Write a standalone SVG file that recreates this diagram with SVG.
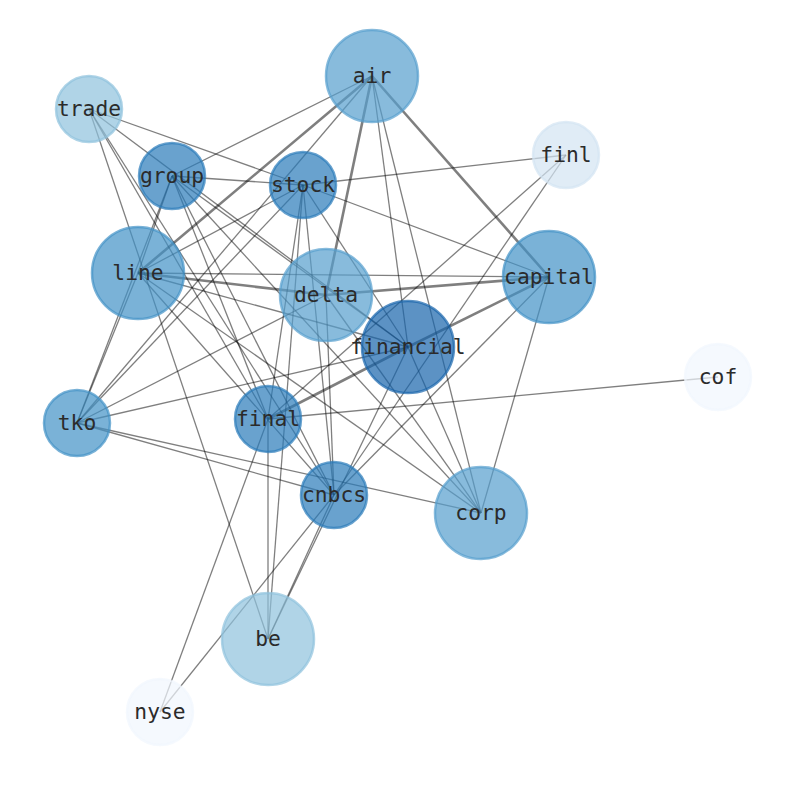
<svg xmlns="http://www.w3.org/2000/svg" width="794" height="790" viewBox="0 0 794 790">
<style>
.e line{stroke:#000;stroke-opacity:.5;stroke-width:1.3;fill:none}
.e line.t{stroke-width:2.6}
.n circle{fill-opacity:.7;stroke-opacity:.7;stroke-width:2.5}
.n text{font-family:"DejaVu Sans Mono","Liberation Mono",monospace;font-size:21.3px;fill:#2b2b2b;text-anchor:middle}
.c1{fill:#1764ab;stroke:#1764ab}
.c2{fill:#2a7ab9;stroke:#2a7ab9}
.c3{fill:#4292c6;stroke:#4292c6}
.c4{fill:#559ecd;stroke:#559ecd}
.c5{fill:#8fc2dd;stroke:#8fc2dd}
.c6{fill:#d3e4f2;stroke:#d3e4f2}
.c7{fill:#f1f6fe;stroke:#f1f6fe}
</style>
<rect width="794" height="790" fill="#fff"/>
<g id="edges" class="e">
<line x1="372" y1="76" x2="172" y2="176"/>
<line class="t" x1="372" y1="76" x2="138" y2="273"/>
<line x1="372" y1="76" x2="77" y2="423"/>
<line class="t" x1="372" y1="76" x2="326" y2="295"/>
<line x1="372" y1="76" x2="408" y2="347"/>
<line x1="372" y1="76" x2="481" y2="513"/>
<line class="t" x1="372" y1="76" x2="549" y2="277"/>
<line x1="89" y1="109" x2="303" y2="185"/>
<line x1="303" y1="185" x2="549" y2="277"/>
<line x1="89" y1="109" x2="408" y2="347"/>
<line x1="172" y1="176" x2="408" y2="347"/>
<line x1="89" y1="109" x2="268" y2="419"/>
<line x1="89" y1="109" x2="334" y2="495"/>
<line x1="89" y1="109" x2="268" y2="639"/>
<line x1="172" y1="176" x2="303" y2="185"/>
<line x1="172" y1="176" x2="77" y2="423"/>
<line x1="172" y1="176" x2="138" y2="273"/>
<line x1="138" y1="273" x2="77" y2="423"/>
<line x1="172" y1="176" x2="268" y2="419"/>
<line x1="172" y1="176" x2="334" y2="495"/>
<line x1="172" y1="176" x2="481" y2="513"/>
<line x1="303" y1="185" x2="566" y2="155"/>
<line x1="303" y1="185" x2="268" y2="419"/>
<line x1="303" y1="185" x2="334" y2="495"/>
<line x1="303" y1="185" x2="268" y2="639"/>
<line x1="303" y1="185" x2="408" y2="347"/>
<line x1="303" y1="185" x2="138" y2="273"/>
<line x1="303" y1="185" x2="77" y2="423"/>
<line x1="138" y1="273" x2="549" y2="277"/>
<line class="t" x1="138" y1="273" x2="326" y2="295"/>
<line class="t" x1="326" y1="295" x2="549" y2="277"/>
<line x1="138" y1="273" x2="408" y2="347"/>
<line x1="138" y1="273" x2="481" y2="513"/>
<line x1="138" y1="273" x2="334" y2="495"/>
<line x1="77" y1="423" x2="326" y2="295"/>
<line x1="77" y1="423" x2="408" y2="347"/>
<line x1="77" y1="423" x2="481" y2="513"/>
<line x1="77" y1="423" x2="334" y2="495"/>
<line x1="326" y1="295" x2="334" y2="495"/>
<line x1="326" y1="295" x2="481" y2="513"/>
<line x1="408" y1="347" x2="481" y2="513"/>
<line x1="549" y1="277" x2="481" y2="513"/>
<line x1="549" y1="277" x2="334" y2="495"/>
<line class="t" x1="408" y1="347" x2="549" y2="277"/>
<line class="t" x1="408" y1="347" x2="268" y2="419"/>
<line x1="268" y1="419" x2="718" y2="377"/>
<line x1="268" y1="419" x2="268" y2="639"/>
<line x1="268" y1="419" x2="160" y2="712"/>
<line x1="334" y1="495" x2="160" y2="712"/>
<line x1="408" y1="347" x2="268" y2="639"/>
<line x1="334" y1="495" x2="268" y2="639"/>
<line x1="566" y1="155" x2="268" y2="419"/>
<line x1="566" y1="155" x2="334" y2="495"/>
</g>
<g id="node-air" class="n"><circle class="c4" cx="372" cy="76" r="46"/><text x="372" y="83">air</text></g>
<g id="node-trade" class="n"><circle class="c5" cx="89" cy="109" r="33"/><text x="89" y="116">trade</text></g>
<g id="node-group" class="n"><circle class="c2" cx="172" cy="176" r="33"/><text x="172" y="183">group</text></g>
<g id="node-stock" class="n"><circle class="c2" cx="303" cy="185" r="33"/><text x="303" y="192">stock</text></g>
<g id="node-finl" class="n"><circle class="c6" cx="566" cy="155" r="33"/><text x="566" y="162">finl</text></g>
<g id="node-line" class="n"><circle class="c3" cx="138" cy="273" r="46"/><text x="138" y="280">line</text></g>
<g id="node-delta" class="n"><circle class="c4" cx="326" cy="295" r="46"/><text x="326" y="302">delta</text></g>
<g id="node-capital" class="n"><circle class="c3" cx="549" cy="277" r="46"/><text x="549" y="284">capital</text></g>
<g id="node-financial" class="n"><circle class="c1" cx="408" cy="347" r="46"/><text x="408" y="354">financial</text></g>
<g id="node-cof" class="n"><circle class="c7" cx="718" cy="377" r="33"/><text x="718" y="384">cof</text></g>
<g id="node-tko" class="n"><circle class="c3" cx="77" cy="423" r="33"/><text x="77" y="430">tko</text></g>
<g id="node-final" class="n"><circle class="c2" cx="268" cy="419" r="33"/><text x="268" y="426">final</text></g>
<g id="node-cnbcs" class="n"><circle class="c2" cx="334" cy="495" r="33"/><text x="334" y="502">cnbcs</text></g>
<g id="node-corp" class="n"><circle class="c4" cx="481" cy="513" r="46"/><text x="481" y="520">corp</text></g>
<g id="node-be" class="n"><circle class="c5" cx="268" cy="639" r="46"/><text x="268" y="646">be</text></g>
<g id="node-nyse" class="n"><circle class="c7" cx="160" cy="712" r="33"/><text x="160" y="719">nyse</text></g>
</svg>
